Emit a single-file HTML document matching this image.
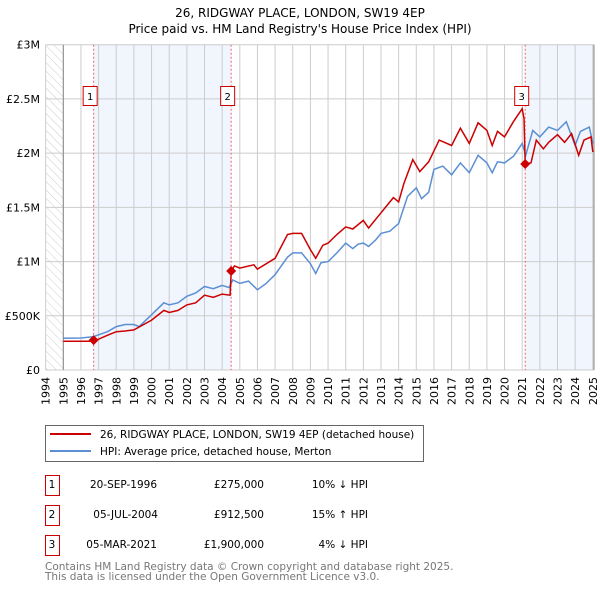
<!DOCTYPE html>
<html><head><meta charset="utf-8"><style>
body{margin:0;background:#fff;font-family:"DejaVu Sans","Liberation Sans",sans-serif;}
svg text{font-family:"DejaVu Sans","Liberation Sans",sans-serif;}
</style></head><body>
<svg id="chart" width="600" height="590" viewBox="0 0 600 590" xmlns="http://www.w3.org/2000/svg">
<defs><pattern id="hatch" width="6" height="6" patternUnits="userSpaceOnUse" patternTransform="rotate(-45)"><line x1="0" y1="0" x2="0" y2="6" stroke="#ccc" stroke-width="1"/></pattern></defs>
<text x="300" y="17" text-anchor="middle" font-size="12">26, RIDGWAY PLACE, LONDON, SW19 4EP</text>
<text x="300" y="33" text-anchor="middle" font-size="12">Price paid vs. HM Land Registry's House Price Index (HPI)</text>
<g id="plot"></g>
<g>
<rect x="45.5" y="425.5" width="378" height="36" fill="#fff" stroke="#666"/>
<line x1="50" y1="434" x2="91" y2="434" stroke="#cc0000" stroke-width="2"/>
<text x="100" y="438" font-size="10.5">26, RIDGWAY PLACE, LONDON, SW19 4EP (detached house)</text>
<line x1="50" y1="451" x2="91" y2="451" stroke="#5b8fd4" stroke-width="2"/>
<text x="100" y="455" font-size="10.5">HPI: Average price, detached house, Merton</text>
</g>
<g font-size="10.5">
<rect x="45.5" y="475.5" width="14" height="20" fill="#fff" stroke="#cc0000"/><text x="52" y="488" text-anchor="middle">1</text>
<text x="157" y="488" text-anchor="end">20-SEP-1996</text><text x="264" y="488" text-anchor="end">£275,000</text><text x="368" y="488" text-anchor="end">10% ↓ HPI</text>
<rect x="45.5" y="505.5" width="14" height="20" fill="#fff" stroke="#cc0000"/><text x="52" y="518" text-anchor="middle">2</text>
<text x="158" y="518" text-anchor="end">05-JUL-2004</text><text x="264" y="518" text-anchor="end">£912,500</text><text x="368" y="518" text-anchor="end">15% ↑ HPI</text>
<rect x="45.5" y="535.5" width="14" height="20" fill="#fff" stroke="#cc0000"/><text x="52" y="548" text-anchor="middle">3</text>
<text x="157" y="548" text-anchor="end">05-MAR-2021</text><text x="264" y="548" text-anchor="end">£1,900,000</text><text x="368" y="548" text-anchor="end">4% ↓ HPI</text>
</g>
<text x="45" y="570" font-size="10.5" fill="#777">Contains HM Land Registry data © Crown copyright and database right 2025.</text>
<text x="45" y="580" font-size="10.5" fill="#777">This data is licensed under the Open Government Licence v3.0.</text>
</svg>
<script>
const hpiYears=[1995,1996,1996.7,1997.5,1998,1998.5,1999,1999.3,2000,2000.7,2001,2001.5,2002,2002.5,2003,2003.5,2004,2004.4,2004.6,2005,2005.5,2006,2006.5,2007,2007.7,2008,2008.5,2009,2009.3,2009.6,2010,2010.5,2011,2011.4,2011.7,2012,2012.3,2012.7,2013,2013.5,2014,2014.5,2015,2015.3,2015.7,2016,2016.5,2017,2017.5,2018,2018.5,2019,2019.3,2019.6,2020,2020.5,2021,2021.2,2021.6,2022,2022.5,2023,2023.5,2024,2024.3,2024.8,2025];
const hpiValues=[0.292,0.295,0.307,0.353,0.40,0.42,0.42,0.40,0.51,0.62,0.60,0.62,0.68,0.71,0.77,0.75,0.78,0.76,0.83,0.80,0.82,0.74,0.80,0.88,1.04,1.08,1.08,0.98,0.89,0.99,1.0,1.08,1.17,1.12,1.16,1.17,1.14,1.20,1.26,1.28,1.35,1.60,1.68,1.58,1.64,1.85,1.88,1.80,1.91,1.82,1.98,1.91,1.82,1.92,1.91,1.97,2.09,1.98,2.21,2.15,2.24,2.21,2.29,2.07,2.20,2.24,2.09];
const priceYears=[1995,1996.72,1997.5,1998,1998.5,1999,2000,2000.7,2001,2001.5,2002,2002.5,2003,2003.5,2004,2004.45,2004.51,2004.7,2005,2005.8,2006,2007,2007.7,2008,2008.5,2009,2009.3,2009.7,2010,2010.5,2011,2011.4,2012,2012.3,2013,2013.7,2014,2014.3,2014.8,2015.2,2015.7,2016.3,2017,2017.5,2018,2018.5,2019,2019.3,2019.6,2020,2020.5,2021,2021.1,2021.17,2021.5,2021.8,2022.2,2022.5,2023,2023.4,2023.8,2024.2,2024.5,2024.9,2025];
const priceValues=[0.265,0.265,0.32,0.353,0.36,0.37,0.46,0.55,0.53,0.55,0.60,0.62,0.69,0.67,0.70,0.69,0.9125,0.96,0.94,0.97,0.93,1.03,1.25,1.26,1.26,1.11,1.03,1.15,1.17,1.25,1.32,1.30,1.38,1.31,1.45,1.59,1.55,1.72,1.94,1.83,1.92,2.12,2.07,2.23,2.09,2.28,2.21,2.07,2.20,2.15,2.29,2.41,2.32,1.90,1.91,2.12,2.04,2.10,2.17,2.10,2.18,1.98,2.12,2.15,2.01];
const saleYears=[1996.72,2004.51,2021.17];
const saleValues=[0.275,0.9125,1.90];
const saleLabels=["1","2","3"];
const yTickValues=[0,0.5,1,1.5,2,2.5,3];
const yTickLabels=["£0","£500K","£1M","£1.5M","£2M","£2.5M","£3M"];
const xTickYears=[1994,1995,1996,1997,1998,1999,2000,2001,2002,2003,2004,2005,2006,2007,2008,2009,2010,2011,2012,2013,2014,2015,2016,2017,2018,2019,2020,2021,2022,2023,2024,2025];

const L=45.7,R=594,T=44.7,B=370;
const xS=y=>63.3+(y-1995)*17.65;
const yS=v=>B-(v/3)*(B-T);
const NS="http://www.w3.org/2000/svg";
const g=document.getElementById('plot');
function mk(tag,attrs,parent){const e=document.createElementNS(NS,tag);for(const k in attrs)e.setAttribute(k,attrs[k]);(parent||g).appendChild(e);return e;}
let e;
e=mk('rect',{x:L,y:T,width:R-L,height:B-T,fill:'#fff'});


e=mk('rect',{x:L,y:T,width:xS(1995)-L,height:B-T,fill:'url(#hatch)'});


e=mk('rect',{x:xS(saleYears[0]),y:T,width:xS(saleYears[1])-xS(saleYears[0]),height:B-T,fill:'#eef3fc',opacity:0.8});


e=mk('rect',{x:xS(saleYears[2]),y:T,width:R-xS(saleYears[2]),height:B-T,fill:'#eef3fc',opacity:0.8});


xTickYears.forEach(yr=>{
  e=mk('line',{x1:xS(yr),x2:xS(yr),y1:T,y2:B,stroke:'#ccc','stroke-width':1});
  
  
  e=mk('text',{x:0,y:0,'font-size':11,'text-anchor':'end',transform:`translate(${xS(yr)+4},${B+7}) rotate(-90)`});
  e.textContent=yr;
  
  
});
yTickValues.forEach((v,i)=>{
  e=mk('line',{x1:L,x2:R,y1:yS(v),y2:yS(v),stroke:'#ccc','stroke-width':1});
  
  
  e=mk('text',{x:40,y:yS(v)+4,'font-size':11,'text-anchor':'end'});
  e.textContent=yTickLabels[i];
  
  
});
e=mk('line',{x1:xS(1995),x2:xS(1995),y1:T,y2:B,stroke:'#888'});


e=mk('line',{x1:R,x2:R,y1:T,y2:B,stroke:'#888'});


saleYears.forEach(yr=>{
  e=mk('line',{x1:xS(yr),x2:xS(yr),y1:T,y2:B,stroke:'#e66','stroke-width':1,'stroke-dasharray':'2,2'});
  
  
});
const pts=(xs,vs)=>xs.map((x,i)=>xS(x).toFixed(1)+','+yS(vs[i]).toFixed(1)).join(' ');
e=mk('polyline',{points:pts(hpiYears,hpiValues),fill:'none',stroke:'#5b8fd4','stroke-width':1.5});


e=mk('polyline',{points:pts(priceYears,priceValues),fill:'none',stroke:'#cc0000','stroke-width':1.5});


saleYears.forEach((yr,i)=>{
  const cx=xS(yr),cy=yS(saleValues[i]);
  e=mk('path',{d:`M${cx},${cy-5}L${cx+5},${cy}L${cx},${cy+5}L${cx-5},${cy}Z`,fill:'#cc0000'});
  
  
  const bx=cx-3.5;
  e=mk('rect',{x:bx-7,y:86.5,width:14,height:19,fill:'#fff',stroke:'#cc0000'});
  
  
  e=mk('text',{x:bx,y:100,'font-size':10,'text-anchor':'middle'});
  e.textContent=saleLabels[i];
  
  
});
</script>
</body></html>
